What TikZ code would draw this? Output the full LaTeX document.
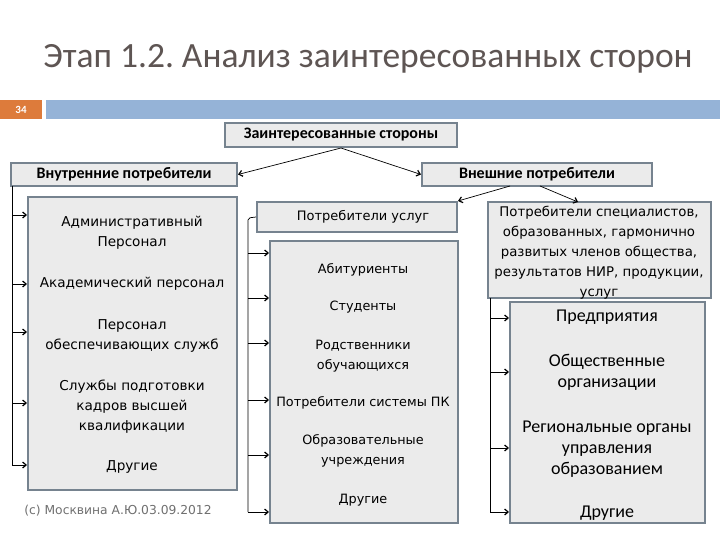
\documentclass[tikz,border=0pt]{standalone}
\usepackage{fontspec}
\setmainfont{DejaVu Sans}
\newfontfamily\calibri{Carlito}
\usetikzlibrary{arrows.meta,positioning}
\frenchspacing

\definecolor{boxfill}{HTML}{EBEBEB}
\definecolor{boxline}{HTML}{76838F}
\definecolor{titlegray}{HTML}{5E5553}
\definecolor{barblue}{HTML}{95B3D7}
\definecolor{pageorange}{HTML}{DD7B3B}
\definecolor{notegray}{HTML}{707070}

\tikzset{
  box/.style={draw=boxline, fill=boxfill, line width=2pt, inner sep=0pt},
  head/.style={box, font=\calibri\bfseries\fontsize{16}{18}\selectfont},
  item/.style={font=\fontsize{13.6}{20}\selectfont, align=center, inner sep=0pt},
  svcitem/.style={item, font=\fontsize{12.8}{20}\selectfont},
  orgitem/.style={font=\calibri\fontsize{18}{21}\selectfont, align=center, inner sep=0pt},
  link/.style={-{Straight Barb[length=3.5pt,width=6pt,line width=1.2pt]}, line width=0.7pt},
  rail/.style={line width=0.7pt, rounded corners=2pt},
}

\begin{document}
\begin{tikzpicture}[x=1pt,y=-1pt]
  \useasboundingbox[fill=white] (0,0) rectangle (720,540);

  % title and slide bar
  \node[anchor=base, text=titlegray, font=\calibri\fontsize{35.5}{38}\selectfont] (title) at (368,68) {Этап 1.2. Анализ заинтересованных сторон};
  \fill[pageorange] (0,100) rectangle (42,119);
  \fill[barblue] (46,100) rectangle (720,119);
  \node[text=white, font=\calibri\bfseries\fontsize{11}{12}\selectfont] (pagenum) at (21,109.5) {34};

  % headings
  \node[head, minimum width=232, minimum height=24] (stake) at (341,135) {Заинтересованные стороны};
  \node[head, minimum width=226, minimum height=23] (inner) at (124,174.5) {Внутренние потребители};
  \node[head, minimum width=230, minimum height=23] (outer) at (537,174.5) {Внешние потребители};

  \draw[link] (stake.south) -- (inner.east);
  \draw[link] (stake.south) -- (outer.west);

  % boxes
  \node[box, minimum width=209, minimum height=293] (lbox) at (132.5,343.5) {};
  \node[box, minimum width=200, minimum height=30, font=\fontsize{13}{16}\selectfont] (serv) at (357,217) {\hspace{12pt}Потребители услуг};
  \node[box, minimum width=188, minimum height=282] (mbox) at (364,382) {};
  \node[box, minimum width=223, minimum height=96] (spec) at (599.5,250) {};
  \node[box, minimum width=195, minimum height=221] (rbox) at (607.5,412.5) {};

  \coordinate (outA) at (510,186);
  \coordinate (outB) at (540,186);
  \draw[link] (outA) -- (serv.north east);
  \draw[link] (outB) -- (578,202);

  % internal consumers
  \node[item] (adm) at (132,233) {Административный\\Персонал};
  \node[item] (acad) at (132,284) {Академический персонал};
  \node[item] (supp) at (132,336) {Персонал\\обеспечивающих служб};
  \node[item] (qual) at (132,407) {Службы подготовки\\кадров высшей\\квалификации};
  \node[item] (lothr) at (132,467) {Другие};

  \coordinate (lrail) at (12,186);
  \draw[rail] (lrail) -- (lrail |- 0,465);
  \foreach \yy in {215,284,332,403,465}
    \draw[link] (lrail |- 0,\yy) -- (lbox.west |- 0,\yy);

  % service consumers
  \node[svcitem] (appl) at (363,270) {Абитуриенты};
  \node[svcitem] (stud) at (363,307) {Студенты};
  \node[svcitem] (rel) at (363,356) {Родственники\\обучающихся};
  \node[svcitem] (pk) at (363,403) {Потребители системы ПК};
  \node[svcitem] (edu) at (363,451) {Образовательные\\учреждения};
  \node[svcitem] (mothr) at (363,500) {Другие};

  \coordinate (mrail) at (248,218);
  \draw[rail] (serv.west) -- (mrail) -- (mrail |- 0,512);
  \foreach \yy in {253,298,343,400,455,512}
    \draw[link] (mrail |- 0,\yy) -- (mbox.west |- 0,\yy);

  % specialists consumers
  \node[item, font=\fontsize{13.3}{20}\selectfont] at (599,253) (spectext) {Потребители специалистов,\\образованных, гармонично\\развитых членов общества,\\результатов НИР, продукции,\\услуг};

  \node[orgitem] (ent) at (607,317) {Предприятия};
  \node[orgitem] (pub) at (607,372.5) {Общественные\\организации};
  \node[orgitem] (reg) at (607,449) {Региональные органы\\управления\\образованием};
  \node[orgitem] (rothr) at (607,513) {Другие};

  \coordinate (rrail) at (490,298);
  \draw[rail] (rrail) -- (rrail |- 0,512);
  \foreach \yy in {318,372,448,512}
    \draw[link] (rrail |- 0,\yy) -- (rbox.west |- 0,\yy);

  \node[text=notegray, font=\fontsize{12.3}{14}\selectfont] (note) at (118,511) {(с) Москвина А.Ю.03.09.2012};
\end{tikzpicture}
\end{document}
